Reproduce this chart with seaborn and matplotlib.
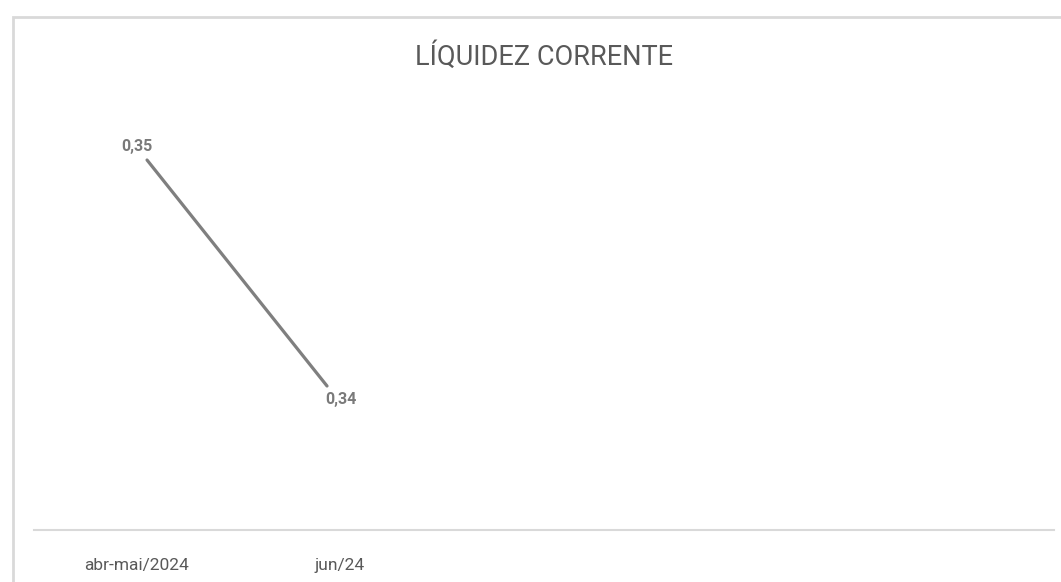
import matplotlib
matplotlib.use("Agg")
import matplotlib.pyplot as plt
import matplotlib.transforms as mtransforms
import seaborn as sns
import pandas as pd
from matplotlib import font_manager
from matplotlib.patches import Rectangle

categories = ["abr-mai/2024", "jun/24"]
values = [0.35, 0.34]
labels = ["0,35", "0,34"]
title = "LÍQUIDEZ CORRENTE"

sns.set_theme(style="white")
avail = {f.name for f in font_manager.fontManager.ttflist}
narrow = [f for f in ["Liberation Sans Narrow", "Roboto", "DejaVu Sans"] if f in avail]
plt.rcParams['font.family'] = narrow

df = pd.DataFrame({"cat": categories, "val": values})
df["x"] = range(len(df))

fig = plt.figure(figsize=(10.61, 5.82), dpi=100)
ax = fig.add_axes([34/1061, 1-530/582, (1054-34)/1061, (530-10)/582])

sns.lineplot(data=df, x="x", y="val", ax=ax, color="#7f7f7f", linewidth=2.3)

ax.set_xlim(-0.628, 5.039)
ppu = (386-160)/0.01
ax.set_ylim(0.34 - (530-386)/ppu, 0.35 + (160-10)/ppu)

offsets = [(-7.5, 9.5), (10, -10)]
for (xi, v, lab, off) in zip(df["x"], df["val"], labels, offsets):
    ax.annotate(lab, (xi, v), xytext=off, textcoords="offset points",
                ha="center", va="center", fontsize=11.5, fontweight="bold",
                color="#7a7a7a")

ax.set_xticks(df["x"])
ax.set_xticklabels(categories, fontsize=12.5, color="#595959")
ax.tick_params(axis="x", length=0, pad=20)
label_shifts = [-11, 13]
for lbl, dx in zip(ax.get_xticklabels(), label_shifts):
    lbl.set_transform(lbl.get_transform() +
                      mtransforms.ScaledTranslation(dx/100, 0, fig.dpi_scale_trans))
ax.set_yticks([])
ax.set_xlabel("")
ax.set_ylabel("")
for s in ["top", "right", "left"]:
    ax.spines[s].set_visible(False)
ax.spines["bottom"].set_color("#d9d9d9")
ax.spines["bottom"].set_linewidth(1.5)

fig.text(544/1061, 1-57/582, title, ha="center", va="center",
         fontsize=19.5, color="#595959")

fig.patches.append(Rectangle((13/1061, -0.1), 1.2, 1-17/582+0.1,
                             transform=fig.transFigure, fill=False,
                             edgecolor="#d9d9d9", linewidth=2))

fig.savefig("out.png", dpi=100)
